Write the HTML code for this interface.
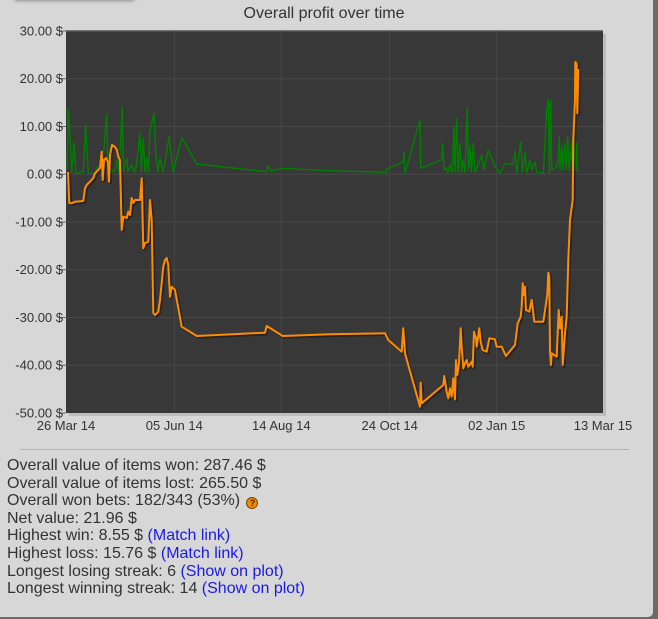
<!DOCTYPE html>
<html><head><meta charset="utf-8"><style>
html,body{margin:0;padding:0;}
body{width:658px;height:619px;background:#6a6a6a;position:relative;overflow:hidden;font-family:"Liberation Sans",Arial,sans-serif;}
#panel{position:absolute;left:0;top:0;width:653px;height:617px;background:#d7d7d7;border-bottom-right-radius:5px;}
#tab{position:absolute;left:14px;top:-6px;width:121px;height:6px;background:#dcdcdc;box-shadow:0 1px 3px rgba(0,0,0,0.35);border-radius:3px;}
#sep{position:absolute;left:20px;top:449px;width:609px;height:1px;background:#b3b3b3;}
#stats{position:absolute;left:7px;top:457px;font-size:16px;line-height:17.6px;color:#333;white-space:nowrap;}
#stats a{color:#1a1ae6;text-decoration:none;}
.q{display:inline-block;width:10px;height:10px;border-radius:50%;background:#f08a00;border:1px solid #7a4500;color:#4a2a00;font-size:9px;line-height:10px;text-align:center;font-weight:bold;vertical-align:-1px;margin-left:2px;}
svg{position:absolute;left:0;top:0;}
</style></head><body>
<div id="panel">
<div id="tab"></div>
<svg width="658" height="445" viewBox="0 0 658 445" xmlns="http://www.w3.org/2000/svg">
<text x="324" y="18" font-family="Liberation Sans, Arial, sans-serif" font-size="16" fill="#333" text-anchor="middle">Overall profit over time</text>
<rect x="69" y="34" width="537" height="382" fill="#bdbdbd"/>
<rect x="66" y="31" width="537" height="382" fill="#383838"/>
<line x1="66" y1="31" x2="603" y2="31" stroke="#555" stroke-width="1.5"/>
<g stroke="#474747" stroke-width="1">
<line x1="66" y1="78.7" x2="603" y2="78.7"/>
<line x1="66" y1="126.5" x2="603" y2="126.5"/>
<line x1="66" y1="174.2" x2="603" y2="174.2"/>
<line x1="66" y1="222" x2="603" y2="222"/>
<line x1="66" y1="269.7" x2="603" y2="269.7"/>
<line x1="66" y1="317.5" x2="603" y2="317.5"/>
<line x1="66" y1="365.2" x2="603" y2="365.2"/>
<line x1="174.3" y1="31" x2="174.3" y2="413"/>
<line x1="281.3" y1="31" x2="281.3" y2="413"/>
<line x1="389.7" y1="31" x2="389.7" y2="413"/>
<line x1="496.7" y1="31" x2="496.7" y2="413"/>
</g>
<g stroke="#666" stroke-width="1">
<line x1="60" y1="31" x2="66" y2="31"/><line x1="60" y1="78.7" x2="66" y2="78.7"/><line x1="60" y1="126.5" x2="66" y2="126.5"/><line x1="60" y1="174.2" x2="66" y2="174.2"/><line x1="60" y1="222" x2="66" y2="222"/><line x1="60" y1="269.7" x2="66" y2="269.7"/><line x1="60" y1="317.5" x2="66" y2="317.5"/><line x1="60" y1="365.2" x2="66" y2="365.2"/><line x1="60" y1="413" x2="66" y2="413"/>
</g>
<g font-family="Liberation Sans, Arial, sans-serif" font-size="13" fill="#333" text-anchor="end">
<text x="63" y="35.5">30.00 $</text>
<text x="63" y="83.2">20.00 $</text>
<text x="63" y="131">10.00 $</text>
<text x="63" y="178.7">0.00 $</text>
<text x="63" y="226.5">-10.00 $</text>
<text x="63" y="274.2">-20.00 $</text>
<text x="63" y="322">-30.00 $</text>
<text x="63" y="369.7">-40.00 $</text>
<text x="63" y="417.5">-50.00 $</text>
</g>
<g font-family="Liberation Sans, Arial, sans-serif" font-size="13" fill="#333" text-anchor="middle">
<text x="66" y="430">26 Mar 14</text>
<text x="174.3" y="430">05 Jun 14</text>
<text x="281.3" y="430">14 Aug 14</text>
<text x="389.7" y="430">24 Oct 14</text>
<text x="496.7" y="430">02 Jan 15</text>
<text x="603" y="430">13 Mar 15</text>
</g>
<polyline fill="none" stroke="#008000" stroke-width="1.4" stroke-linejoin="round" points="67,170 68.3,110 70,135 71.7,173 74,143 76,173.3 83.3,171.7 85.7,125 88.3,173.3 95,173.3 97,167 100,168.3 103,160 106.7,114 108.3,171.7 111,168 113,172 115,170 117,160 119,172 122.3,107.3 123.3,171.7 125,166 126.7,158.3 128,171 131.7,165 134,172 136,168 140,133.3 141.5,172 143.3,138.3 145,172 147,158 148.5,172 150,130 151.7,123.3 154,113.3 156,156.7 158,172 160,158.3 162.7,171.7 165,163 169,136.7 173.3,171.7 181.7,137.7 196.7,164 266.7,171.7 268.3,165.7 271,171 282.7,168.3 330,170.7 386,172.3 386.7,169.3 403.3,161.7 404,151.7 405,173.3 420,120 420.7,168.3 441.7,160 442.7,143.3 444,170 446,168 448,173 450,165 452,173 454,126.7 455,172 456.7,118.3 458,172 460,143.3 461.5,172 463,160 465,172 467.3,107.3 468.5,170 470,146.7 471.5,172 473.3,143.3 475,172 478,165 481.7,155 483.5,170 488.3,150 495,166.7 500,173.3 505,164 513.3,164 515,151.7 516.7,173 520.7,141.7 522.3,172 525,151.7 526.7,173 530,160 531.7,170 535,161.7 536.7,172 543.3,173.3 546.7,110 548.3,99.3 549.3,173.3 550.7,100 551.7,170 556.7,166.7 558,160 559.3,136.7 560,170 561.7,146.7 563,170 564.7,143 566,170 567.7,136.7 569.3,170 571.5,143 572.7,171 574,140 575.3,171 576.7,143.3 577.3,171.7"/>
<polyline fill="none" stroke="rgba(0,0,0,0.35)" stroke-width="2.5" stroke-linejoin="round" transform="translate(1.5,1.5)" points="68,172 69.3,203 71.7,203.3 75,201.7 83.3,201 85,188.3 86.7,185 90,181.7 93.3,178 95,173.3 96.7,171.7 100,168 101.7,151.7 102.7,180 104,160 106,158 108,162 109,181.7 110,155 112,145 115,147 117,150 118.3,156.7 120,160 121.7,230 123.3,216.7 126.7,218 128.3,211.7 130,215 131.7,198 133.3,203 135,200 140,200 141.7,178.3 143.3,248.3 145,243 148.3,241.7 150,200 151.7,220 153.3,313 155,315 158.3,311.7 160,300 163.3,266.7 165,260 166.7,258 168.3,265 170,296.7 171.7,286.7 175,290 181.7,326.7 196.7,336 265,332.7 266.7,326 282.7,336 330,334.3 385,333.3 388.3,340 401.7,351.7 403.3,328.3 405,353.3 420,406.7 420.7,382.7 421.7,403.3 443.3,385 444.3,376 446.7,391.7 448.3,398.3 450,388.3 451.7,396.7 453.3,378.3 455,399.3 456,360 457.3,375 459,363.3 460.7,328.3 461.7,346.7 463.3,368.3 465,363.3 466.7,360 468.3,366.7 471.7,361.7 472.7,366.7 474,331.7 476,338.3 476.7,346.7 479.3,328.3 480.7,341.7 482.7,350 486.7,351.7 489.3,338.3 495,339.3 496.7,346.7 501.7,346.7 506,356 515,345 517.7,323.3 520.7,316.7 521.7,306.7 522.7,283.3 524,295 525,286.7 526,310 529.3,311.7 531.7,300 533,310 534.3,321.7 543.3,321.7 547.3,295 548.3,272.7 549.3,276.7 550,351.7 551,365 551.7,353.3 556.7,356.7 558.7,310 560,328.3 561.7,316.7 562.7,365 565,333.3 566.7,316.7 568.3,260 570,220 572.7,200 573.3,140 575,100 575.3,62 576.7,64 577.3,113.3 578.3,70 577.3,70"/>
<polyline fill="none" stroke="#ff8c00" stroke-width="2" stroke-linejoin="round" points="68,172 69.3,203 71.7,203.3 75,201.7 83.3,201 85,188.3 86.7,185 90,181.7 93.3,178 95,173.3 96.7,171.7 100,168 101.7,151.7 102.7,180 104,160 106,158 108,162 109,181.7 110,155 112,145 115,147 117,150 118.3,156.7 120,160 121.7,230 123.3,216.7 126.7,218 128.3,211.7 130,215 131.7,198 133.3,203 135,200 140,200 141.7,178.3 143.3,248.3 145,243 148.3,241.7 150,200 151.7,220 153.3,313 155,315 158.3,311.7 160,300 163.3,266.7 165,260 166.7,258 168.3,265 170,296.7 171.7,286.7 175,290 181.7,326.7 196.7,336 265,332.7 266.7,326 282.7,336 330,334.3 385,333.3 388.3,340 401.7,351.7 403.3,328.3 405,353.3 420,406.7 420.7,382.7 421.7,403.3 443.3,385 444.3,376 446.7,391.7 448.3,398.3 450,388.3 451.7,396.7 453.3,378.3 455,399.3 456,360 457.3,375 459,363.3 460.7,328.3 461.7,346.7 463.3,368.3 465,363.3 466.7,360 468.3,366.7 471.7,361.7 472.7,366.7 474,331.7 476,338.3 476.7,346.7 479.3,328.3 480.7,341.7 482.7,350 486.7,351.7 489.3,338.3 495,339.3 496.7,346.7 501.7,346.7 506,356 515,345 517.7,323.3 520.7,316.7 521.7,306.7 522.7,283.3 524,295 525,286.7 526,310 529.3,311.7 531.7,300 533,310 534.3,321.7 543.3,321.7 547.3,295 548.3,272.7 549.3,276.7 550,351.7 551,365 551.7,353.3 556.7,356.7 558.7,310 560,328.3 561.7,316.7 562.7,365 565,333.3 566.7,316.7 568.3,260 570,220 572.7,200 573.3,140 575,100 575.3,62 576.7,64 577.3,113.3 578.3,70 577.3,70"/>
</svg>
<div id="sep"></div>
<div id="stats">
Overall value of items won: 287.46 $<br>
Overall value of items lost: 265.50 $<br>
Overall won bets: 182/343 (53%) <span class="q">?</span><br>
Net value: 21.96 $<br>
Highest win: 8.55 $ <a>(Match link)</a><br>
Highest loss: 15.76 $ <a>(Match link)</a><br>
Longest losing streak: 6 <a>(Show on plot)</a><br>
Longest winning streak: 14 <a>(Show on plot)</a>
</div>
</div>
</body></html>
